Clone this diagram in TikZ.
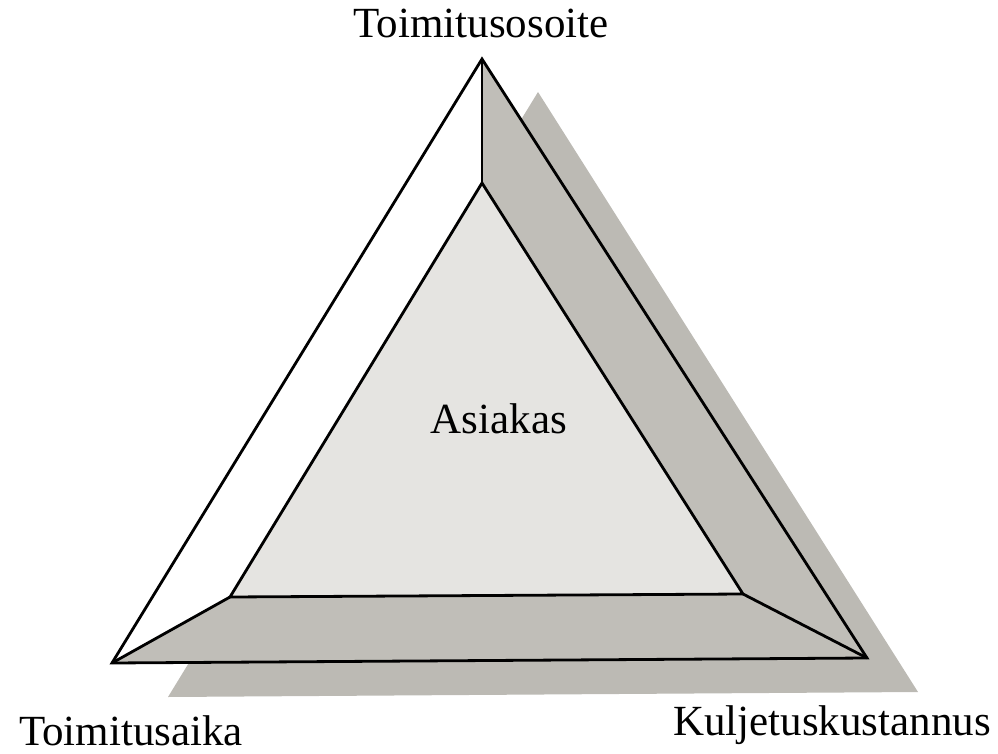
\documentclass[tikz,border=0pt]{standalone}
\usepackage{fontspec}
\setmainfont{Liberation Serif}
\definecolor{stripgray}{RGB}{192,190,184}
\definecolor{innergray}{RGB}{229,228,225}
\definecolor{shadowgray}{RGB}{188,186,180}
\tikzset{
  edge/.style={draw=black, line width=2.8pt, line join=miter},
  label/.style={font=\fontsize{43}{48}\selectfont, anchor=base, inner sep=0pt},
}
\begin{document}
\begin{tikzpicture}[x=1pt, y=-1pt]
\useasboundingbox (0,0) rectangle (998,754);
% corners
\coordinate (OT) at (482,59);
\coordinate (OL) at (112,663);
\coordinate (OR) at (867,658);
\coordinate (IT) at (482,183);
\coordinate (IL) at (230,597);
\coordinate (IR) at (743,594);
\coordinate (ST) at (538,92);
\coordinate (SL) at (168,697);
\coordinate (SR) at (918,692);
% shadow
\fill[shadowgray] (ST) -- (SL) -- (SR) -- cycle;
% faces
\fill[white] (OT) -- (OL) -- (IL) -- (IT) -- cycle;
\fill[stripgray] (OT) -- (IT) -- (IR) -- (OR) -- cycle;
\fill[stripgray] (IL) -- (IR) -- (OR) -- (OL) -- cycle;
\fill[innergray] (IT) -- (IL) -- (IR) -- cycle;
% edges
\draw[edge] (OT) -- (OL) -- (OR) -- cycle;
\draw[edge] (IT) -- (IL) -- (IR) -- cycle;
\draw[edge] (OT) -- (IT);
\draw[edge] (OL) -- (IL);
\draw[edge] (OR) -- (IR);
% labels
\node[label] (top) at (481,38) {Toimitusosoite};
\node[label] (left) at (131,745) {Toimitusaika};
\node[label] (right) at (832,735) {Kuljetuskustannus};
\node[label] (center) at (499,433) {Asiakas};
\end{tikzpicture}
\end{document}
